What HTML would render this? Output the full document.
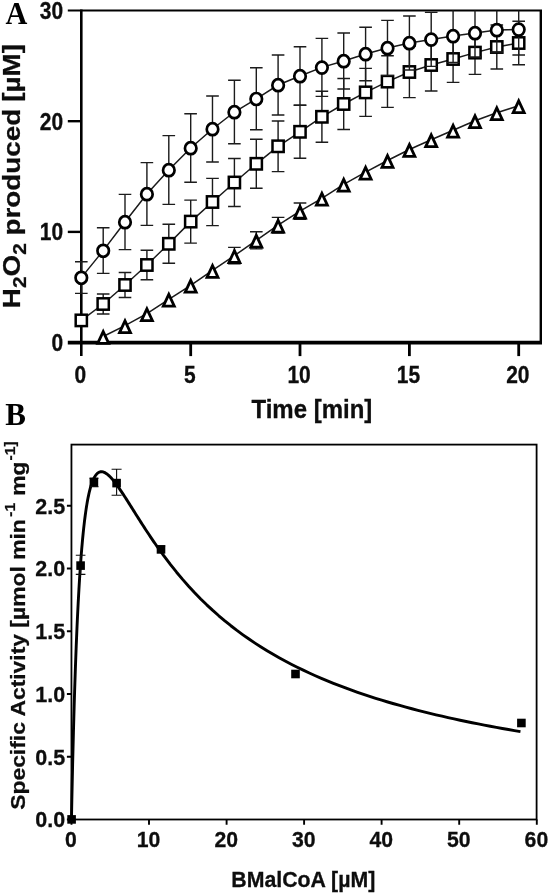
<!DOCTYPE html>
<html lang="en"><head><meta charset="utf-8"><title>Figure</title>
<style>
html,body{margin:0;padding:0;background:#fff;}
body{width:550px;height:895px;overflow:hidden;}
svg{display:block;}
.s{font-family:"Liberation Sans",sans-serif;font-weight:bold;fill:#0a0a0a;stroke:#0a0a0a;stroke-width:0.25px;}
.t{font-family:"Liberation Serif",serif;font-weight:bold;fill:#000;}
</style></head><body>
<svg width="550" height="895" viewBox="0 0 550 895">
<defs><clipPath id="ca"><rect x="70" y="10.4" width="475" height="345"/></clipPath><filter id="soft" x="-2%" y="-2%" width="104%" height="104%"><feGaussianBlur stdDeviation="0.62"/></filter></defs>
<rect width="550" height="895" fill="#fff"/>
<g filter="url(#soft)">
<g stroke="#000" fill="none" stroke-linecap="butt">
<line x1="81.3" y1="9.4" x2="81.3" y2="356.1" stroke-width="2.6"/>
<line x1="67.8" y1="10.4" x2="542.0" y2="10.4" stroke-width="2"/>
<line x1="540.8" y1="10.4" x2="540.8" y2="342.6" stroke-width="2.4"/>
<line x1="67.8" y1="342.6" x2="542.0" y2="342.6" stroke-width="3.7"/>
<line x1="67.8" y1="231.9" x2="81.3" y2="231.9" stroke-width="2.4"/>
<line x1="67.8" y1="121.2" x2="81.3" y2="121.2" stroke-width="2.4"/>
<line x1="190.7" y1="342.6" x2="190.7" y2="356.1" stroke-width="2.8"/>
<line x1="300.0" y1="342.6" x2="300.0" y2="356.1" stroke-width="2.8"/>
<line x1="409.4" y1="342.6" x2="409.4" y2="356.1" stroke-width="2.8"/>
<line x1="518.7" y1="342.6" x2="518.7" y2="356.1" stroke-width="2.8"/>
</g>
<g clip-path="url(#ca)" stroke="#1a1a1a" fill="none">
<path d="M234.4 247.4V263.8M228.1 247.4h12.6M228.1 263.8h12.6M256.3 231.7V248.9M250.0 231.7h12.6M250.0 248.9h12.6M278.1 217.4V233.0M271.8 217.4h12.6M271.8 233.0h12.6M300.0 203.0V219.4M293.7 203.0h12.6M293.7 219.4h12.6" stroke-width="1.4"/>
<path d="M103.2 336.5L125.0 325.7L146.9 313.7L168.8 299.3L190.7 285.3L212.5 270.4L234.4 255.6L256.3 240.3L278.1 225.2L300.0 211.2L321.9 198.3L343.7 184.3L365.6 172.2L387.5 160.5L409.4 149.5L431.2 139.7L453.1 130.3L475.0 120.8L496.8 112.8L518.7 105.7" stroke-width="1.5"/>
</g>
<g stroke="#000" fill="#fff" stroke-width="2.3">
<path d="M103.2 331.6L108.7 343.4H97.7Z" stroke-width="2.8" stroke-linejoin="miter"/>
<path d="M125.0 320.8L130.5 332.6H119.5Z" stroke-width="2.8" stroke-linejoin="miter"/>
<path d="M146.9 308.8L152.4 320.6H141.4Z" stroke-width="2.8" stroke-linejoin="miter"/>
<path d="M168.8 294.4L174.3 306.2H163.3Z" stroke-width="2.8" stroke-linejoin="miter"/>
<path d="M190.7 280.4L196.2 292.2H185.2Z" stroke-width="2.8" stroke-linejoin="miter"/>
<path d="M212.5 265.5L218.0 277.3H207.0Z" stroke-width="2.8" stroke-linejoin="miter"/>
<path d="M234.4 250.7L239.9 262.5H228.9Z" stroke-width="2.8" stroke-linejoin="miter"/>
<path d="M256.3 235.4L261.8 247.2H250.8Z" stroke-width="2.8" stroke-linejoin="miter"/>
<path d="M278.1 220.3L283.6 232.1H272.6Z" stroke-width="2.8" stroke-linejoin="miter"/>
<path d="M300.0 206.3L305.5 218.1H294.5Z" stroke-width="2.8" stroke-linejoin="miter"/>
<path d="M321.9 193.4L327.4 205.2H316.4Z" stroke-width="2.8" stroke-linejoin="miter"/>
<path d="M343.7 179.4L349.2 191.2H338.2Z" stroke-width="2.8" stroke-linejoin="miter"/>
<path d="M365.6 167.3L371.1 179.1H360.1Z" stroke-width="2.8" stroke-linejoin="miter"/>
<path d="M387.5 155.6L393.0 167.4H382.0Z" stroke-width="2.8" stroke-linejoin="miter"/>
<path d="M409.4 144.6L414.9 156.4H403.9Z" stroke-width="2.8" stroke-linejoin="miter"/>
<path d="M431.2 134.8L436.7 146.6H425.7Z" stroke-width="2.8" stroke-linejoin="miter"/>
<path d="M453.1 125.4L458.6 137.2H447.6Z" stroke-width="2.8" stroke-linejoin="miter"/>
<path d="M475.0 115.9L480.5 127.7H469.5Z" stroke-width="2.8" stroke-linejoin="miter"/>
<path d="M496.8 107.9L502.3 119.7H491.3Z" stroke-width="2.8" stroke-linejoin="miter"/>
<path d="M518.7 100.8L524.2 112.6H513.2Z" stroke-width="2.8" stroke-linejoin="miter"/>
</g>
<g clip-path="url(#ca)" stroke="#1a1a1a" fill="none">
<path d="M81.3 316.4V324.4M75.0 316.4h12.6M75.0 324.4h12.6M103.2 294.0V314.0M96.9 294.0h12.6M96.9 314.0h12.6M125.0 272.5V297.5M118.7 272.5h12.6M118.7 297.5h12.6M146.9 250.3V279.7M140.6 250.3h12.6M140.6 279.7h12.6M168.8 224.3V263.3M162.5 224.3h12.6M162.5 263.3h12.6M190.7 200.1V243.1M184.3 200.1h12.6M184.3 243.1h12.6M212.5 178.4V225.6M206.2 178.4h12.6M206.2 225.6h12.6M234.4 158.5V206.5M228.1 158.5h12.6M228.1 206.5h12.6M256.3 139.3V188.3M250.0 139.3h12.6M250.0 188.3h12.6M278.1 121.0V171.6M271.8 121.0h12.6M271.8 171.6h12.6M300.0 105.3V158.3M293.7 105.3h12.6M293.7 158.3h12.6M321.9 91.3V142.3M315.6 91.3h12.6M315.6 142.3h12.6M343.7 78.5V129.5M337.4 78.5h12.6M337.4 129.5h12.6M365.6 68.4V116.4M359.3 68.4h12.6M359.3 116.4h12.6M387.5 55.8V107.4M381.2 55.8h12.6M381.2 107.4h12.6M409.4 46.4V97.6M403.1 46.4h12.6M403.1 97.6h12.6M431.2 39.0V91.0M424.9 39.0h12.6M424.9 91.0h12.6M453.1 35.6V82.4M446.8 35.6h12.6M446.8 82.4h12.6M475.0 30.8V74.4M468.7 30.8h12.6M468.7 74.4h12.6M496.8 25.0V69.0M490.5 25.0h12.6M490.5 69.0h12.6M518.7 21.2V64.8M512.4 21.2h12.6M512.4 64.8h12.6" stroke-width="1.4"/>
<path d="M81.3 320.4L103.2 304.0L125.0 285.0L146.9 265.0L168.8 243.8L190.7 221.6L212.5 202.0L234.4 182.5L256.3 163.8L278.1 146.3L300.0 131.8L321.9 116.8L343.7 104.0L365.6 92.4L387.5 81.6L409.4 72.0L431.2 65.0L453.1 59.0L475.0 52.6L496.8 47.0L518.7 43.0" stroke-width="1.5"/>
</g>
<g stroke="#000" fill="#fff" stroke-width="2.3">
<rect x="75.7" y="314.7" width="11.2" height="11.4" stroke-width="2.5"/>
<rect x="97.6" y="298.3" width="11.2" height="11.4" stroke-width="2.5"/>
<rect x="119.4" y="279.3" width="11.2" height="11.4" stroke-width="2.5"/>
<rect x="141.3" y="259.3" width="11.2" height="11.4" stroke-width="2.5"/>
<rect x="163.2" y="238.1" width="11.2" height="11.4" stroke-width="2.5"/>
<rect x="185.1" y="215.9" width="11.2" height="11.4" stroke-width="2.5"/>
<rect x="206.9" y="196.3" width="11.2" height="11.4" stroke-width="2.5"/>
<rect x="228.8" y="176.8" width="11.2" height="11.4" stroke-width="2.5"/>
<rect x="250.7" y="158.1" width="11.2" height="11.4" stroke-width="2.5"/>
<rect x="272.5" y="140.6" width="11.2" height="11.4" stroke-width="2.5"/>
<rect x="294.4" y="126.1" width="11.2" height="11.4" stroke-width="2.5"/>
<rect x="316.3" y="111.1" width="11.2" height="11.4" stroke-width="2.5"/>
<rect x="338.1" y="98.3" width="11.2" height="11.4" stroke-width="2.5"/>
<rect x="360.0" y="86.7" width="11.2" height="11.4" stroke-width="2.5"/>
<rect x="381.9" y="75.9" width="11.2" height="11.4" stroke-width="2.5"/>
<rect x="403.8" y="66.3" width="11.2" height="11.4" stroke-width="2.5"/>
<rect x="425.6" y="59.3" width="11.2" height="11.4" stroke-width="2.5"/>
<rect x="447.5" y="53.3" width="11.2" height="11.4" stroke-width="2.5"/>
<rect x="469.4" y="46.9" width="11.2" height="11.4" stroke-width="2.5"/>
<rect x="491.2" y="41.3" width="11.2" height="11.4" stroke-width="2.5"/>
<rect x="513.1" y="37.3" width="11.2" height="11.4" stroke-width="2.5"/>
</g>
<g clip-path="url(#ca)" stroke="#1a1a1a" fill="none">
<path d="M81.3 261.8V293.4M75.0 261.8h12.6M75.0 293.4h12.6M103.2 227.8V273.4M96.9 227.8h12.6M96.9 273.4h12.6M125.0 194.4V249.6M118.7 194.4h12.6M118.7 249.6h12.6M146.9 162.6V225.4M140.6 162.6h12.6M140.6 225.4h12.6M168.8 135.6V204.4M162.5 135.6h12.6M162.5 204.4h12.6M190.7 113.8V182.2M184.3 113.8h12.6M184.3 182.2h12.6M212.5 96.0V162.0M206.2 96.0h12.6M206.2 162.0h12.6M234.4 80.2V143.8M228.1 80.2h12.6M228.1 143.8h12.6M256.3 67.8V129.8M250.0 67.8h12.6M250.0 129.8h12.6M278.1 55.0V115.0M271.8 55.0h12.6M271.8 115.0h12.6M300.0 46.8V105.2M293.7 46.8h12.6M293.7 105.2h12.6M321.9 38.4V96.4M315.6 38.4h12.6M315.6 96.4h12.6M343.7 33.0V89.0M337.4 33.0h12.6M337.4 89.0h12.6M365.6 27.2V80.8M359.3 27.2h12.6M359.3 80.8h12.6M387.5 20.4V75.6M381.2 20.4h12.6M381.2 75.6h12.6M409.4 16.0V70.0M403.1 16.0h12.6M403.1 70.0h12.6M431.2 12.4V66.4M424.9 12.4h12.6M424.9 66.4h12.6M453.1 9.5V62.5M446.8 9.5h12.6M446.8 62.5h12.6M475.0 9.0V57.0M468.7 9.0h12.6M468.7 57.0h12.6M496.8 8.0V52.0M490.5 8.0h12.6M490.5 52.0h12.6M518.7 3.8V55.0M512.4 3.8h12.6M512.4 55.0h12.6" stroke-width="1.4"/>
<path d="M81.3 277.6L103.2 250.6L125.0 222.0L146.9 194.0L168.8 170.0L190.7 148.0L212.5 129.0L234.4 112.0L256.3 98.8L278.1 85.0L300.0 76.0L321.9 67.4L343.7 61.0L365.6 54.0L387.5 48.0L409.4 43.0L431.2 39.4L453.1 36.0L475.0 33.0L496.8 30.0L518.7 29.4" stroke-width="1.5"/>
</g>
<g stroke="#000" fill="#fff" stroke-width="2.3">
<ellipse cx="81.3" cy="277.8" rx="5.75" ry="6.0" stroke-width="2.7"/>
<ellipse cx="103.2" cy="250.8" rx="5.75" ry="6.0" stroke-width="2.7"/>
<ellipse cx="125.0" cy="222.2" rx="5.75" ry="6.0" stroke-width="2.7"/>
<ellipse cx="146.9" cy="194.2" rx="5.75" ry="6.0" stroke-width="2.7"/>
<ellipse cx="168.8" cy="170.2" rx="5.75" ry="6.0" stroke-width="2.7"/>
<ellipse cx="190.7" cy="148.2" rx="5.75" ry="6.0" stroke-width="2.7"/>
<ellipse cx="212.5" cy="129.2" rx="5.75" ry="6.0" stroke-width="2.7"/>
<ellipse cx="234.4" cy="112.2" rx="5.75" ry="6.0" stroke-width="2.7"/>
<ellipse cx="256.3" cy="99.0" rx="5.75" ry="6.0" stroke-width="2.7"/>
<ellipse cx="278.1" cy="85.2" rx="5.75" ry="6.0" stroke-width="2.7"/>
<ellipse cx="300.0" cy="76.2" rx="5.75" ry="6.0" stroke-width="2.7"/>
<ellipse cx="321.9" cy="67.6" rx="5.75" ry="6.0" stroke-width="2.7"/>
<ellipse cx="343.7" cy="61.2" rx="5.75" ry="6.0" stroke-width="2.7"/>
<ellipse cx="365.6" cy="54.2" rx="5.75" ry="6.0" stroke-width="2.7"/>
<ellipse cx="387.5" cy="48.2" rx="5.75" ry="6.0" stroke-width="2.7"/>
<ellipse cx="409.4" cy="43.2" rx="5.75" ry="6.0" stroke-width="2.7"/>
<ellipse cx="431.2" cy="39.6" rx="5.75" ry="6.0" stroke-width="2.7"/>
<ellipse cx="453.1" cy="36.2" rx="5.75" ry="6.0" stroke-width="2.7"/>
<ellipse cx="475.0" cy="33.2" rx="5.75" ry="6.0" stroke-width="2.7"/>
<ellipse cx="496.8" cy="30.2" rx="5.75" ry="6.0" stroke-width="2.7"/>
<ellipse cx="518.7" cy="29.6" rx="5.75" ry="6.0" stroke-width="2.7"/>
</g>
<text class="t" transform="translate(5.6 24.4) scale(0.96 1)" font-size="31.5" text-anchor="start">A</text>
<text class="s" transform="translate(63.2 351.0) scale(1 1.18)" font-size="21" text-anchor="end">0</text>
<text class="s" transform="translate(63.2 240.3) scale(1 1.18)" font-size="21" text-anchor="end">10</text>
<text class="s" transform="translate(63.2 129.6) scale(1 1.18)" font-size="21" text-anchor="end">20</text>
<text class="s" transform="translate(63.2 18.9) scale(1 1.18)" font-size="21" text-anchor="end">30</text>
<text class="s" transform="translate(80.4 382.9) scale(1 1.18)" font-size="21" text-anchor="middle">0</text>
<text class="s" transform="translate(189.8 382.9) scale(1 1.18)" font-size="21" text-anchor="middle">5</text>
<text class="s" transform="translate(299.1 382.9) scale(1 1.18)" font-size="21" text-anchor="middle">10</text>
<text class="s" transform="translate(408.5 382.9) scale(1 1.18)" font-size="21" text-anchor="middle">15</text>
<text class="s" transform="translate(517.8 382.9) scale(1 1.18)" font-size="21" text-anchor="middle">20</text>
<text class="s" transform="translate(311.9 418.1) scale(1 1.09)" font-size="24.0" text-anchor="middle">Time [min]</text>
<text class="s" transform="translate(20.0 308.2) rotate(-90) scale(1.07 0.95)" font-size="26">H<tspan font-size="19.5" dy="6">2</tspan><tspan dy="-6">O</tspan><tspan font-size="19.5" dy="6">2</tspan><tspan dy="-6"> produced</tspan><tspan dx="-0.6"> [µM]</tspan></text>
<g stroke="#000" fill="none">
<rect x="71.45" y="444.6" width="465.15000000000003" height="374.9" stroke-width="1.8"/>
<path d="M66.9 819.5H71.45M66.9 756.8H71.45M66.9 694.0H71.45M66.9 631.2H71.45M66.9 568.5H71.45M66.9 505.8H71.45M71.5 819.5V824.7M149.0 819.5V824.7M226.6 819.5V824.7M304.1 819.5V824.7M381.6 819.5V824.7M459.2 819.5V824.7M536.8 819.5V824.7" stroke-width="1.9"/>
</g>
<path d="M71.45 819.50L71.84 799.91L72.24 781.52L72.63 764.22L73.03 747.95L73.42 732.63L73.82 718.18L74.21 704.57L74.60 691.72L75.00 679.59L75.39 668.13L75.79 657.29L76.18 647.05L76.58 637.35L76.97 628.18L77.36 619.49L77.76 611.26L78.15 603.47L78.55 596.08L78.94 589.07L79.34 582.42L79.73 576.12L80.13 570.14L80.52 564.47L80.91 559.09L81.31 553.98L81.70 549.13L82.10 544.53L82.49 540.16L82.89 536.01L83.28 532.08L83.67 528.34L84.07 524.80L84.46 521.44L84.86 518.25L85.25 515.22L85.65 512.35L86.04 509.63L86.43 507.05L86.83 504.61L87.22 502.30L87.62 500.11L88.01 498.04L88.41 496.09L88.80 494.24L89.19 492.49L89.59 490.84L89.98 489.29L90.38 487.83L90.77 486.45L91.17 485.16L91.56 483.94L91.95 482.80L92.35 481.74L92.74 480.74L93.14 479.81L93.53 478.94L93.93 478.14L94.32 477.39L94.72 476.70L95.90 474.94L97.08 473.62L98.26 472.68L99.45 472.07L100.63 471.76L101.81 471.72L103.00 471.92L104.18 472.33L105.36 472.92L106.54 473.68L107.73 474.58L108.91 475.62L110.09 476.77L111.28 478.02L112.46 479.37L113.64 480.79L114.83 482.29L116.01 483.85L117.19 485.46L118.37 487.13L119.56 488.83L120.74 490.57L121.92 492.34L123.11 494.13L124.29 495.95L125.47 497.78L126.66 499.63L127.84 501.49L129.02 503.37L130.20 505.24L131.39 507.12L132.57 509.01L133.75 510.89L134.94 512.77L136.12 514.65L137.30 516.53L138.48 518.39L139.67 520.26L140.85 522.11L142.03 523.96L143.22 525.79L144.40 527.62L145.58 529.44L146.77 531.24L147.95 533.03L149.13 534.81L150.31 536.58L151.50 538.34L152.68 540.08L153.86 541.81L155.05 543.52L156.23 545.22L157.41 546.91L158.60 548.58L159.78 550.23L160.96 551.88L162.14 553.51L163.33 555.12L164.51 556.72L170.54 564.65L176.58 572.20L182.61 579.39L188.64 586.23L194.68 592.74L200.71 598.93L206.74 604.82L212.78 610.43L218.81 615.77L224.84 620.87L230.87 625.73L236.91 630.38L242.94 634.81L248.97 639.05L255.01 643.11L261.04 647.00L267.07 650.73L273.11 654.30L279.14 657.73L285.17 661.02L291.21 664.19L297.24 667.24L303.27 670.17L309.31 672.99L315.34 675.71L321.37 678.33L327.40 680.86L333.44 683.31L339.47 685.67L345.50 687.95L351.54 690.15L357.57 692.29L363.60 694.35L369.64 696.35L375.67 698.29L381.70 700.17L387.74 701.99L393.77 703.76L399.80 705.48L405.84 707.14L411.87 708.76L417.90 710.33L423.93 711.86L429.97 713.35L436.00 714.80L442.03 716.21L448.07 717.58L454.10 718.92L460.13 720.22L466.17 721.49L472.20 722.72L478.23 723.93L484.27 725.11L490.30 726.26L496.33 727.38L502.37 728.47L508.40 729.54L514.43 730.58L520.46 731.60" fill="none" stroke="#000" stroke-width="2.9" stroke-linejoin="round" stroke-linecap="butt"/>
<path d="M80.6 555.2V574.4M75.8 555.2h9.6M75.8 574.4h9.6M116.6 469.2V495.2M111.6 469.2h10M111.6 495.2h10M94 478v9M89.5 478.3h9M89.5 486.6h9M161 546v7M156.8 546h8.4" fill="none" stroke="#111" stroke-width="1.1"/>
<g fill="#000">
<rect x="67.3" y="815.1" width="8.6" height="8.6"/>
<rect x="76.3" y="561.3" width="8.6" height="8.6"/>
<rect x="89.6" y="477.7" width="8.6" height="8.6"/>
<rect x="112.3" y="478.8" width="8.6" height="8.6"/>
<rect x="156.7" y="545.1" width="8.6" height="8.6"/>
<rect x="291.2" y="669.7" width="8.6" height="8.6"/>
<rect x="517.1" y="718.7" width="8.6" height="8.6"/>
</g>
<text class="t" transform="translate(5.3 425.3) scale(1 1)" font-size="31" text-anchor="start">B</text>
<text class="s" transform="translate(65.2 827.3) scale(1 1.06)" font-size="21.5" text-anchor="end">0.0</text>
<text class="s" transform="translate(65.2 764.5) scale(1 1.06)" font-size="21.5" text-anchor="end">0.5</text>
<text class="s" transform="translate(65.2 701.8) scale(1 1.06)" font-size="21.5" text-anchor="end">1.0</text>
<text class="s" transform="translate(65.2 639.0) scale(1 1.06)" font-size="21.5" text-anchor="end">1.5</text>
<text class="s" transform="translate(65.2 576.3) scale(1 1.06)" font-size="21.5" text-anchor="end">2.0</text>
<text class="s" transform="translate(65.2 513.5) scale(1 1.06)" font-size="21.5" text-anchor="end">2.5</text>
<text class="s" transform="translate(71.0 846.9) scale(1 1.07)" font-size="21.2" text-anchor="middle">0</text>
<text class="s" transform="translate(148.6 846.9) scale(1 1.07)" font-size="21.2" text-anchor="middle">10</text>
<text class="s" transform="translate(226.2 846.9) scale(1 1.07)" font-size="21.2" text-anchor="middle">20</text>
<text class="s" transform="translate(303.7 846.9) scale(1 1.07)" font-size="21.2" text-anchor="middle">30</text>
<text class="s" transform="translate(381.2 846.9) scale(1 1.07)" font-size="21.2" text-anchor="middle">40</text>
<text class="s" transform="translate(458.8 846.9) scale(1 1.07)" font-size="21.2" text-anchor="middle">50</text>
<text class="s" transform="translate(536.4 846.9) scale(1 1.07)" font-size="21.2" text-anchor="middle">60</text>
<text class="s" transform="translate(303.3 887.2) scale(1 1.05)" font-size="21.3" text-anchor="middle">BMalCoA [µM]</text>
<text class="s" transform="translate(24.9 809.8) rotate(-90) scale(1.064 0.94)" font-size="21.5">Specific Activity [µmol min<tspan font-size="14.8" dy="-10.8" dx="2.2">-1</tspan><tspan dy="10.8" dx="0.7"> mg</tspan><tspan font-size="14.8" dy="-10.8" dx="0.9">-1]</tspan></text>
</g>
</svg></body></html>
